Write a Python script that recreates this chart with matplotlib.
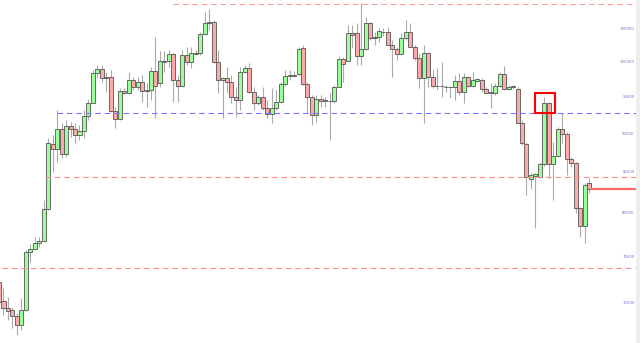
import matplotlib
matplotlib.use("Agg")
from matplotlib import pyplot as plt
from matplotlib.patches import Rectangle
from matplotlib.transforms import blended_transform_factory

# daily candles (oldest first)
opens = [72250, 70250, 69520, 69320, 68710, 67800, 69320, 75560, 75830, 76500,
         76770, 80450, 88610, 87920, 90560, 87270, 91000, 90560, 89800, 90380,
         92360, 94200, 98430, 99020, 97700, 97850, 93050, 91950, 95850, 95560,
         97410, 96420, 97120, 95850, 95990, 98720, 96980, 100120, 100190, 101240,
         97410, 96560, 101090, 100040, 101310, 101390, 104270, 105990, 106140, 100040,
         97410, 97700, 97120, 95000, 94580, 98580, 99160, 95710, 94160, 95000,
         93460, 92640, 93460, 94300, 96840, 97990, 98070, 98290, 102140, 96840,
         95000, 92500, 94720, 94440, 94440, 94440, 96420, 100490, 100190, 104430,
         104430, 100930, 101990, 105990, 103660, 103810, 104590, 104630, 102590, 101990,
         101240, 103660, 104630, 102290, 100640, 97700, 101390, 97850, 96560, 96490,
         96460, 96420, 96420, 97270, 95710, 97850, 96560, 97310, 97410, 96090,
         95760, 95520, 96560, 98290, 96090, 96380, 96180, 91450, 88610, 84110,
         84520, 84350, 85990, 94200, 85990, 87090, 90560, 89930, 86670, 86120,
         80570, 78530, 83610]
highs = [72680, 71610, 70660, 69630, 69010, 70560, 75750, 76420, 77220, 77220,
         81570, 89400, 89800, 93190, 91410, 91810, 91540, 91410, 91140, 93190,
         94720, 98870, 99600, 99600, 98580, 98870, 93600, 96270, 96270, 98580,
         97850, 97850, 98140, 96980, 99310, 103810, 101690, 101690, 101840, 101390,
         98140, 101840, 102290, 102290, 101840, 104590, 107720, 108200, 106460, 101840,
         97850, 99310, 98140, 96420, 99310, 99600, 99900, 96420, 95280, 96420,
         94580, 96270, 95990, 97120, 98870, 98870, 98750, 102330, 102590, 97120,
         95280, 95280, 95280, 95000, 95560, 96700, 100930, 100790, 105670, 105670,
         105990, 109170, 106930, 106140, 104590, 105200, 105200, 105420, 103350, 102290,
         104430, 106460, 105990, 102590, 101390, 102590, 101540, 98870, 99160, 100040,
         96700, 96560, 98140, 98430, 98430, 97990, 98580, 97700, 97660, 96460,
         96930, 96930, 98620, 99450, 96700, 96700, 96460, 91810, 88920, 84840,
         84840, 86320, 95050, 94340, 88920, 90910, 92780, 90250, 86960, 86320,
         80770, 83610, 84270]
lows = [69930, 68810, 68300, 67500, 66810, 67300, 69220, 74420, 75750, 76090,
        76650, 80370, 85020, 86280, 86800, 86930, 89530, 88740, 89140, 89400,
        91810, 94160, 97700, 97120, 95710, 92920, 90740, 91810, 95420, 95420,
        95990, 95990, 94300, 93600, 94580, 92090, 96420, 98580, 99310, 94300,
        94300, 96420, 99600, 99160, 101090, 101090, 104120, 104900, 99900, 95560,
        92090, 95560, 94160, 92220, 93190, 98430, 95560, 93190, 93880, 93190,
        92090, 91410, 93190, 94160, 96560, 97410, 97810, 97990, 96700, 92780,
        91140, 91540, 93600, 93600, 89140, 94160, 96380, 97120, 100140, 102140,
        99600, 99600, 101840, 103350, 102590, 103090, 103970, 102590, 97850, 100340,
        101090, 103350, 102290, 100340, 96270, 91410, 96420, 96270, 95990, 95000,
        95710, 94860, 94580, 95280, 94160, 96420, 96420, 97120, 95760, 95520,
        93420, 95280, 96460, 95990, 95990, 96180, 91360, 88480, 82180, 82970,
        78230, 84230, 85770, 84230, 81570, 86960, 88700, 84640, 85690, 79980,
        77250, 76570, 82420]
closes = [70140, 69520, 69220, 68710, 67800, 69320, 75530, 75830, 76500, 76770,
          80450, 88700, 87920, 90560, 87270, 91000, 90560, 89800, 90380, 92360,
          94200, 98430, 99020, 97700, 97850, 93050, 91950, 95850, 95560, 97410,
          96420, 97120, 95850, 95990, 98720, 96560, 100190, 100190, 101240, 97410,
          96560, 101090, 100040, 101390, 101390, 104270, 105990, 106140, 100040, 97410,
          97700, 97120, 95000, 94580, 98580, 99160, 95710, 94160, 95000, 93460,
          92640, 93460, 94300, 96840, 97990, 98140, 98210, 101990, 96840, 95000,
          92500, 94720, 94480, 94580, 94480, 96420, 100490, 99750, 104430, 104120,
          100930, 101990, 105990, 103660, 103810, 104740, 104630, 102590, 101990, 101240,
          103660, 104630, 102290, 100640, 97700, 101390, 97850, 96560, 96490, 96560,
          96420, 96350, 97270, 95710, 97850, 96560, 97410, 97510, 96090, 95610,
          95520, 96560, 98290, 96090, 96460, 96560, 91450, 88700, 84350, 84640,
          84760, 85990, 94200, 85990, 87090, 90560, 89930, 86670, 86120, 80570,
          78530, 83400, 82870]

tick_vals = [70000, 75000, 80000, 85000, 90000, 95000, 100000, 105000]

# level lines: (price, first candle, colour)
levels = [(109000, 38.9, '#ff9999'),
          (92750, 13.0, '#7777ff'),
          (84350, 10.3, '#ff8888'),
          (73730, 0.7, '#ff8888')]
last_price = 82870
box_x = (119.8, 124.3)
box_y = (92820, 95520)

fig = plt.figure(figsize=(6.4, 3.43), dpi=100, facecolor='#eeeeee')
ax = fig.add_axes([0, 0, 636 / 640, 1])
ax.set_facecolor('white')

n = len(opens)
xs = list(range(n))
x_min, x_max = 0.217, 142.5

# wicks
ax.vlines(xs, lows, highs, color='#aaaaaa', lw=0.8, zorder=1)

# bodies
up_color = '#99ff99'
dn_color = '#ffaaaa'
cols = [up_color if c >= o else dn_color for o, c in zip(opens, closes)]
bottoms = [min(o, c) for o, c in zip(opens, closes)]
heights = [max(abs(c - o), 20) for o, c in zip(opens, closes)]
ax.bar(xs, heights, bottom=bottoms, width=0.9, color=cols,
       edgecolor='#555555', linewidth=0.6, zorder=2)

for price, start, col in levels:
    ax.hlines(price, start, x_max, colors=col, lw=0.8,
              linestyles=(0, (5, 3.5)), zorder=3)

ax.hlines(last_price, n - 1 + 0.45, x_max, colors='#ff6666', lw=1.6, zorder=3)

ax.add_patch(Rectangle((box_x[0], box_y[0]), box_x[1] - box_x[0],
                       box_y[1] - box_y[0], fill=False, edgecolor='red',
                       lw=1.5, zorder=4))

ax.set_yscale('log')
ax.set_xlim(x_min, x_max)
ax.set_ylim(66020, 109660)
ax.set_xticks([])
ax.set_yticks([])
ax.minorticks_off()
for s in ax.spines.values():
    s.set_visible(False)

trans = blended_transform_factory(ax.transAxes, ax.transData)
for v in tick_vals:
    ax.text(0.998, v, str(v), transform=trans, ha='right', va='center',
            fontsize=2.8, color='#7777cc')

fig.savefig('out.png', dpi=100, facecolor=fig.get_facecolor())
